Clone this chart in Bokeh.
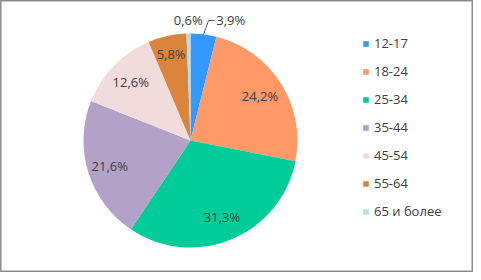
import math
from bokeh.plotting import figure
from bokeh.models import ColumnDataSource, Legend, LegendItem, Range1d
from bokeh.core.properties import value
from bokeh.embed import file_html
from bokeh.resources import INLINE

categories = ["12-17", "18-24", "25-34", "35-44", "45-54", "55-64", "65 и более"]
shares = [3.9, 24.2, 31.3, 21.6, 12.6, 5.8, 0.6]
labels = ["3,9%", "24,2%", "31,3%", "21,6%", "12,6%", "5,8%", "0,6%"]
colors = ["#3399FF", "#FF9966", "#00CC99", "#B3A2C7", "#F2DCDB", "#DA843C", "#B7DEE8"]

W, H = 473, 272
CX, CY, R = 190, 132, 107
FONT = "Open Sans"
TXT = "#404040"

total = sum(shares)
starts, ends, mids = [], [], []
acc = 0.0
for s in shares:
    a0 = math.pi / 2 - 2 * math.pi * acc / total
    acc += s
    a1 = math.pi / 2 - 2 * math.pi * acc / total
    starts.append(a0)
    ends.append(a1)
    mids.append((a0 + a1) / 2)

p = figure(width=W, height=H, output_backend="svg", toolbar_location=None,
           x_range=Range1d(0, W), y_range=Range1d(0, H), min_border=0)
p.axis.visible = False
p.grid.visible = False
p.outline_line_color = "#8c8c8c"
p.outline_line_width = 2
p.background_fill_color = "white"
p.border_fill_color = "white"

renderers = []
for i in range(len(categories)):
    r = p.wedge(x=CX, y=CY, radius=R, start_angle=starts[i], end_angle=ends[i],
                direction="clock", fill_color=colors[i], line_color=None)
    renderers.append(r)

# inside labels
inside = [1, 2, 3, 4, 5]
rf = {1: 0.77, 2: 0.77, 3: 0.79, 4: 0.78, 5: 0.83}
lx, ly, lt = [], [], []
for i in inside:
    lx.append(CX + rf[i] * R * math.cos(mids[i]))
    ly.append(CY + rf[i] * R * math.sin(mids[i]))
    lt.append(labels[i])
p.text(x=lx, y=ly, text=lt, text_align="center", text_baseline="middle",
       text_font=value(FONT), text_font_size="13px", text_color=TXT)

# outside label 0,6%
i = 6
ox = CX + 1.13 * R * math.cos(mids[i])
oy = CY + 1.13 * R * math.sin(mids[i])
p.text(x=[ox], y=[oy], text=[labels[i]], text_align="center", text_baseline="middle",
       text_font=value(FONT), text_font_size="13px", text_color=TXT)

# outside label 3,9% with leader line
i = 0
ex = CX + R * math.cos(mids[i])
ey = CY + R * math.sin(mids[i])
tx = CX + 1.13 * R * math.cos(mids[i]) + 9
ty = CY + 1.13 * R * math.sin(mids[i])
p.line(x=[ex, ex + 5, tx], y=[ey, ty, ty], line_color="#595959", line_width=1)
p.text(x=[tx + 2], y=[ty], text=[labels[i]], text_align="left", text_baseline="middle",
       text_font=value(FONT), text_font_size="13px", text_color=TXT)

legend = Legend(items=[LegendItem(label=categories[k], renderers=[renderers[k]]) for k in range(len(categories))],
                location=(362, 51), glyph_width=7, glyph_height=7, label_height=20,
                spacing=8, padding=0, margin=0, label_standoff=5,
                label_text_font=FONT, label_text_font_size="13px", label_text_color=TXT,
                border_line_color=None, background_fill_alpha=0)
p.add_layout(legend, "center")

open("out.html", "w").write(file_html(p, INLINE))
